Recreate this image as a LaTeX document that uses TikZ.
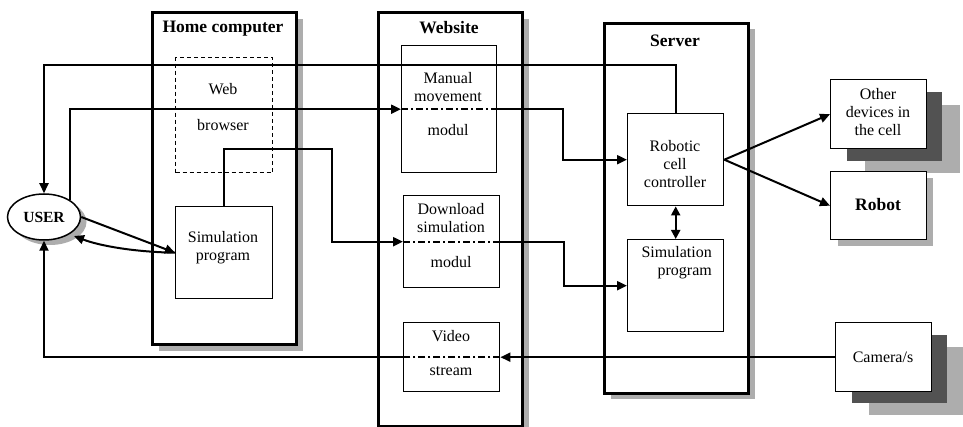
\documentclass[tikz,border=0pt]{standalone}
\usepackage{fontspec}
\setmainfont{Liberation Serif}
\usetikzlibrary{arrows.meta,shapes.geometric}
\tikzset{
 container/.style={draw, line width=3pt, fill=white, anchor=north west, inner sep=0pt},
 innerbox/.style={draw, line width=1.4pt, fill=white, anchor=north west, inner sep=0pt},
 shadowL/.style={fill=black!32, draw=none},
 shadowD/.style={fill=black!68, draw=none},
 conn/.style={line width=2pt, -{Triangle[length=10pt,width=9pt]}},
 dashdot/.style={line width=2pt, dash pattern=on 7pt off 3pt on 2pt off 3pt},
 txt/.style={inner sep=0pt, font=\fontsize{16}{18}\selectfont, align=center},
 ttl/.style={inner sep=0pt, font=\fontsize{17.5}{20}\selectfont\bfseries},
}
\begin{document}
\begin{tikzpicture}[x=1pt,y=-1pt]
\useasboundingbox[fill=white] (0,0) rectangle (963,427);
% shadows of containers
\fill[shadowL] (159,19) rectangle (303,351);
\fill[shadowL] (385,19) rectangle (529,433);
\fill[shadowL] (611,29) rectangle (755,399);
% containers
\node[container, minimum width=144pt, minimum height=332pt] (home) at (151,11) {};
\node[container, minimum width=144pt, minimum height=414pt] (web) at (377,11) {};
\node[container, minimum width=144pt, minimum height=370pt] (server) at (603,22) {};
\node[ttl] (thome) at (223,29) {Home computer};
\node[ttl] (tweb) at (449,28) {Website};
\node[ttl] (tserver) at (675,41) {Server};
% inner boxes
\node[innerbox, dashed, dash pattern=on 4pt off 3pt, minimum width=97pt, minimum height=115pt] (browser) at (175,57) {};
\node[innerbox, minimum width=97pt, minimum height=92pt] (hsim) at (175,206) {};
\node[innerbox, minimum width=95pt, minimum height=127pt] (manual) at (401,45) {};
\node[innerbox, minimum width=96pt, minimum height=92pt] (download) at (403,195) {};
\node[innerbox, minimum width=96pt, minimum height=69pt] (video) at (403,322) {};
\node[innerbox, minimum width=96pt, minimum height=92pt] (ctrl) at (627,113) {};
\node[innerbox, minimum width=96pt, minimum height=92pt] (ssim) at (627,239) {};
% outside boxes with shadows
\fill[shadowL] (865,105) rectangle (960,173);
\fill[shadowD] (847,92) rectangle (942,161);
\node[innerbox, minimum width=96pt, minimum height=69pt] (other) at (830,79) {};
\fill[shadowL] (838,178) rectangle (933,246);
\node[innerbox, minimum width=96pt, minimum height=68pt] (robot) at (830,171) {};
\fill[shadowL] (869,347) rectangle (963,415);
\fill[shadowD] (852,335) rectangle (947,403);
\node[innerbox, minimum width=96pt, minimum height=69pt] (camera) at (835,322) {};
% user
\fill[black!32] (50,222) ellipse (36.5 and 23);
\node[ellipse, draw, line width=1.5pt, fill=white, minimum width=73pt, minimum height=46pt, inner sep=0pt,
      font=\fontsize{15.5}{18}\selectfont\bfseries] (user) at (44,217) {USER};
% texts
\node[txt] (tweb1) at (223,89) {Web};
\node[txt] (tweb2) at (223,125) {browser};
\node[txt] (thsim) at (223,248) {Simulation\\program};
\node[txt] (tman1) at (448,87) {Manual\\movement};
\node[txt] (tman2) at (448,130) {modul};
\node[txt] (tdl1) at (451,218) {Download\\simulation};
\node[txt] (tdl2) at (451,262) {modul};
\node[txt] (tvid1) at (451,336) {Video};
\node[txt] (tvid2) at (451,371) {stream};
\node[txt] (tctrl) at (675,164) {Robotic\\cell\\controller};
\node[txt, align=right, anchor=east] (tssim) at (712,263) {Simulation\\program};
\node[txt] (tother) at (878,112) {Other\\devices in\\the cell};
\node[ttl] (trobot) at (878,205) {Robot};
\node[txt] (tcam) at (883,357) {Camera/s};
% connectors
\draw[conn] (ctrl.north) -- ++(0,-48) -| (user.north);
\draw[conn] (user.north east) |- (manual.west);
\draw[dashdot] (manual.west) -- (manual.east);
\draw[conn] (manual.east) -- ++(66,0) |- (ctrl.west);
\draw[conn] (hsim.north) |- (332,149) |- (download.west);
\draw[dashdot] (download.west) -- (download.east);
\draw[conn] (download.east) -- ++(64,0) |- (ssim.west);
\draw[conn] (camera.west) -- (video.east);
\draw[dashdot] (video.east) -- (video.west);
\draw[conn] (video.west) -| (user.south);
\draw[conn] (user.east) -- (hsim.west);
\draw[conn] (hsim.west) .. controls (135,252) and (100,246) .. (74,236);
\draw[conn] (ctrl.east) -- (other.west);
\draw[conn] (ctrl.east) -- (robot.west);
\draw[line width=2pt, {Triangle[length=9pt,width=9pt]}-{Triangle[length=9pt,width=9pt]}] (ctrl.south) -- (ssim.north);
\end{tikzpicture}
\end{document}
